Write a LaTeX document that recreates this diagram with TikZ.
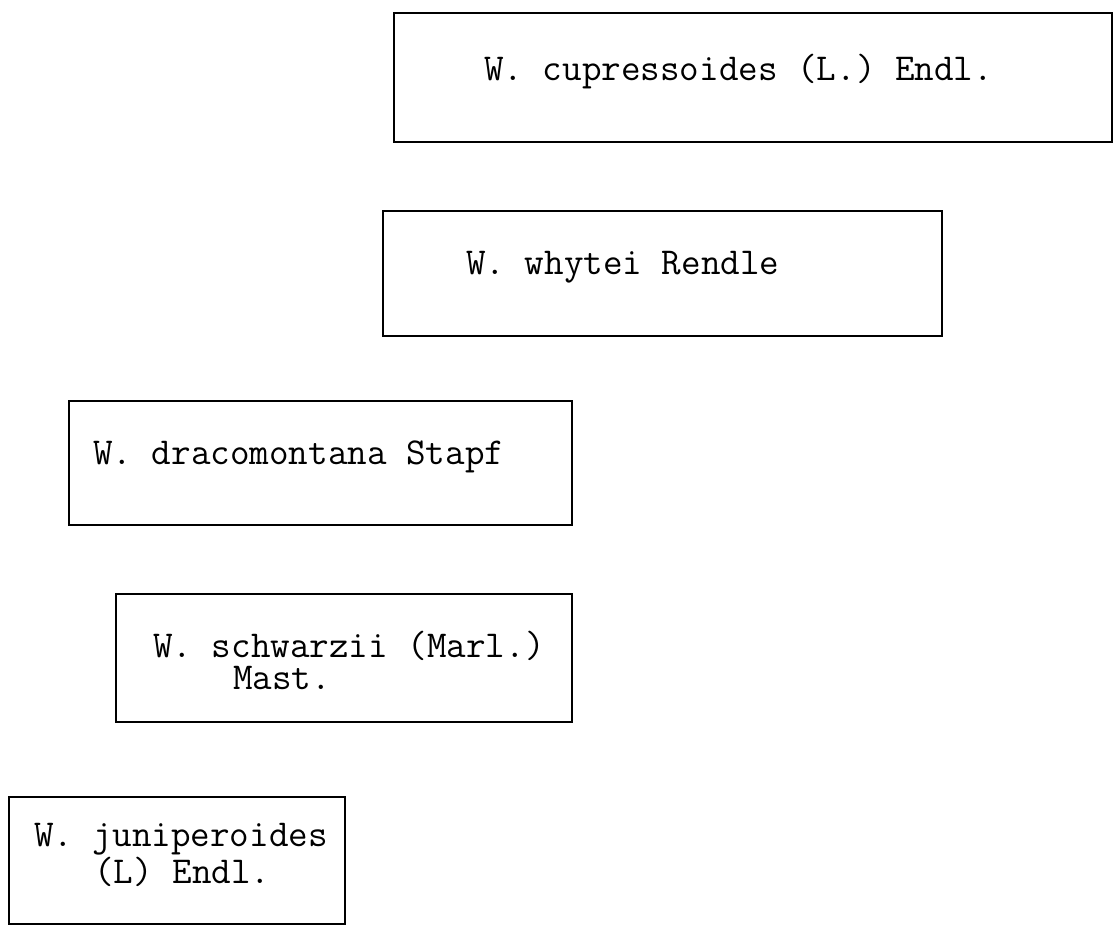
\documentclass[tikz,border=0pt]{standalone}
\usepackage{fontspec}
\usepackage{tikz}
\begin{document}
\begin{tikzpicture}[
    x=1pt, y=-1pt,
    box/.style={rectangle, draw=black, line width=1.1pt, inner sep=0pt},
    taxon/.style={font=\ttfamily\fontsize{38}{32}\selectfont, inner sep=0pt, align=left, anchor=base west}
]
    \useasboundingbox (0,0) rectangle (1116,927);

    \node[box, minimum width=718pt, minimum height=129pt] (cupr) at (753,77.5) {};
    \node[box, minimum width=559pt, minimum height=125pt] (whyt) at (662.5,273.5) {};
    \node[box, minimum width=503pt, minimum height=124pt] (drac) at (320.5,463) {};
    \node[box, minimum width=456pt, minimum height=128pt] (schw) at (344,658) {};
    \node[box, minimum width=336pt, minimum height=127pt] (juni) at (177,860.5) {};

    \node[taxon] (cupr-t) at (484,80) {W. cupressoides (L.) Endl.};
    \node[taxon] (whyt-t) at (466,274) {W. whytei Rendle};
    \node[taxon] (drac-t) at (93,464) {W. dracomontana Stapf};
    \node[taxon] (schw-t) at (153,689) {W. schwarzii (Marl.)\\\hspace*{80pt}Mast.};
    \node[taxon] (juni-t) at (34,883) {W. juniperoides\\\hspace*{60pt}(L) Endl.};
\end{tikzpicture}
\end{document}
